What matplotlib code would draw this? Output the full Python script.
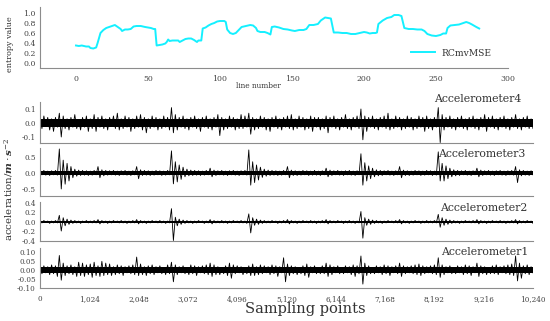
import numpy as np
import matplotlib
matplotlib.use("Agg")
import matplotlib.pyplot as plt

plt.rcParams['font.family'] = ['DejaVu Serif', 'DejaVu Sans']
plt.rcParams['mathtext.fontset'] = 'dejavuserif'

# ---------------- data ----------------
line_number = [0, 2, 4, 7, 9, 10, 12, 14, 15, 17, 19, 21, 23, 25, 27, 29, 31, 32, 34, 36, 38, 40, 42, 45, 48,
               50, 52, 54, 55, 56, 58, 60, 62, 63, 64, 65, 67, 69, 71, 72, 74, 76, 78, 80, 82, 84, 85, 87, 88,
               90, 92, 94, 96, 98, 100, 103, 104, 105, 107, 109, 111, 113, 115, 118, 121, 123, 125, 126, 128,
               131, 133, 135, 136, 138, 141, 144, 147, 150, 152, 155, 158, 160, 162, 165, 168, 170, 173, 175,
               177, 179, 182, 185, 188, 191, 194, 197, 200, 202, 204, 206, 208, 209, 210, 213, 216, 219, 221,
               224, 226, 228, 231, 234, 237, 240, 242, 244, 247, 250, 253, 255, 257, 258, 260, 263, 266, 269,
               271, 273, 275, 278, 280]
rcmvmse = [0.35, 0.34, 0.35, 0.33, 0.33, 0.30, 0.29, 0.31, 0.40, 0.60, 0.66, 0.70, 0.72, 0.74, 0.76, 0.72, 0.68,
           0.64, 0.67, 0.67, 0.68, 0.73, 0.74, 0.74, 0.72, 0.71, 0.70, 0.68, 0.68, 0.35, 0.36, 0.37, 0.39, 0.42,
           0.47, 0.44, 0.45, 0.45, 0.45, 0.42, 0.45, 0.48, 0.49, 0.49, 0.46, 0.42, 0.45, 0.45, 0.69, 0.71, 0.75,
           0.78, 0.80, 0.83, 0.84, 0.84, 0.82, 0.67, 0.60, 0.58, 0.60, 0.66, 0.72, 0.74, 0.76, 0.75, 0.70, 0.64,
           0.62, 0.62, 0.60, 0.57, 0.72, 0.73, 0.71, 0.68, 0.67, 0.65, 0.64, 0.66, 0.66, 0.68, 0.76, 0.76, 0.78,
           0.85, 0.91, 0.90, 0.89, 0.61, 0.61, 0.60, 0.60, 0.58, 0.58, 0.60, 0.62, 0.61, 0.59, 0.60, 0.60, 0.61,
           0.78, 0.85, 0.90, 0.92, 0.96, 0.96, 0.94, 0.70, 0.68, 0.68, 0.67, 0.67, 0.64, 0.58, 0.55, 0.54, 0.56,
           0.59, 0.59, 0.70, 0.75, 0.76, 0.77, 0.80, 0.82, 0.80, 0.77, 0.72, 0.69]

total_samples = 10240
x_ticks = [0, 1024, 2048, 3072, 4096, 5120, 6144, 7168, 8192, 9216, 10240]

# alternating peak / trough values (256 per trace)
acc4 = np.array([  # units 0.01
    3, -4, 5, -2, 4, -5, 3, -6, 4, -3, 7, -10, 5, -4, 3, -5,
    4, -3, 6, -4, 2, -5, 4, -3, 5, -6, 3, -4, 6, -6, 4, -3,
    5, -4, 3, -5, 4, -2, 5, -4, 7, -5, 3, -4, 5, -3, 4, -6,
    3, -4, 5, -3, 6, -5, 4, -7, 3, -4, 5, -3, 4, -5, 3, -4,
    5, -3, 4, -5, 11, -7, 6, -5, 4, -3, 5, -4, 3, -5, 4, -3,
    5, -4, 3, -6, 4, -3, 5, -4, 3, -5, 4, -3, 6, -9, 4, -5,
    3, -4, 5, -3, 4, -5, 3, -4, 6, -4, 5, -3, 7, -8, 4, -5,
    3, -4, 5, -3, 4, -5, 3, -6, 4, -3, 5, -4, 3, -5, 4, -3,
    5, -4, 6, -5, 3, -4, 5, -3, 4, -5, 3, -4, 5, -6, 4, -3,
    4, -5, 3, -4, 5, -7, 4, -3, 5, -4, 3, -5, 4, -3, 6, -4,
    3, -5, 4, -3, 5, -4, 10, -12, 5, -6, 4, -3, 5, -4, 3, -5,
    4, -3, 5, -4, 7, -5, 3, -4, 5, -3, 4, -5, 3, -4, 5, -3,
    4, -5, 3, -4, 5, -3, 4, -6, 5, -4, 3, -5, 4, -3, 11, -14,
    6, -5, 4, -3, 5, -4, 3, -5, 4, -3, 5, -4, 3, -5, 4, -3,
    5, -4, 3, -5, 4, -3, 6, -6, 4, -3, 5, -4, 3, -5, 4, -3,
    5, -4, 3, -5, 4, -3, 6, -4, 3, -5, 4, -3, 5, -4, 3, -4]) * 0.01
acc3 = np.array([  # units 0.01
    7, -6, 8, -7, 6, -8, 7, -6, 8, -7, 75, -50, 40, -35, 30, -25,
    20, -15, 12, -10, 9, -8, 8, -7, 7, -8, 6, -7, 8, -6, 20, -15,
    10, -9, 8, -7, 7, -6, 8, -7, 6, -8, 7, -6, 8, -7, 6, -8,
    7, -6, 20, -18, 10, -8, 8, -7, 7, -8, 6, -7, 8, -6, 7, -8,
    6, -7, 8, -6, 69, -34, 35, -28, 25, -20, 18, -12, 12, -9, 9, -8,
    8, -7, 7, -8, 6, -7, 8, -6, 15, -12, 9, -8, 7, -6, 8, -7,
    6, -8, 7, -6, 8, -7, 6, -8, 7, -6, 8, -7, 72, -38, 35, -30,
    25, -22, 18, -14, 12, -10, 9, -8, 8, -7, 7, -8, 6, -7, 8, -6,
    20, -15, 9, -8, 7, -8, 6, -7, 8, -6, 7, -8, 6, -7, 8, -7,
    6, -8, 7, -6, 15, -12, 9, -8, 7, -6, 8, -7, 6, -8, 7, -6,
    8, -7, 6, -8, 7, -6, 60, -38, 32, -25, 22, -18, 15, -12, 10, -9,
    8, -8, 7, -6, 8, -7, 6, -8, 7, -6, 20, -15, 9, -8, 7, -8,
    6, -7, 8, -6, 7, -8, 6, -7, 8, -6, 7, -8, 6, -7, 66, -25,
    30, -25, 22, -18, 15, -12, 10, -9, 8, -8, 7, -6, 8, -7, 6, -8,
    7, -6, 15, -12, 9, -8, 7, -6, 8, -7, 6, -8, 7, -6, 8, -7,
    6, -8, 7, -6, 8, -7, 20, -30, 10, -9, 8, -7, 6, -8, 7, -6]) * 0.01
acc2 = np.array([  # units 0.01
    2, -2, 3, -1, 2, -3, 2, -2, 3, -2, 14, -19, 9, -8, 6, -5,
    4, -3, 3, -2, 2, -3, 2, -1, 3, -2, 2, -2, 3, -2, 5, -4,
    3, -2, 2, -3, 2, -2, 3, -1, 2, -2, 3, -2, 2, -3, 2, -2,
    3, -2, 5, -4, 3, -2, 2, -3, 2, -2, 3, -1, 2, -2, 3, -2,
    2, -3, 2, -2, 28, -39, 10, -8, 6, -5, 4, -3, 3, -2, 2, -3,
    2, -2, 3, -1, 2, -3, 2, -2, 5, -4, 3, -2, 2, -2, 3, -2,
    2, -3, 2, -2, 3, -1, 2, -2, 3, -2, 2, -3, 17, -23, 9, -7,
    6, -5, 4, -3, 3, -2, 2, -2, 3, -1, 2, -3, 2, -2, 3, -2,
    5, -4, 3, -2, 2, -3, 2, -2, 3, -1, 2, -2, 3, -2, 2, -3,
    2, -2, 3, -2, 5, -4, 3, -2, 2, -2, 3, -1, 2, -3, 2, -2,
    3, -2, 2, -3, 2, -2, 22, -34, 9, -7, 6, -5, 4, -3, 3, -2,
    2, -3, 2, -2, 3, -1, 2, -2, 3, -2, 5, -4, 3, -2, 2, -3,
    2, -2, 3, -1, 2, -3, 2, -2, 3, -2, 2, -2, 3, -2, 16, -11,
    9, -7, 6, -5, 4, -3, 3, -2, 2, -3, 2, -2, 3, -1, 2, -2,
    3, -2, 5, -4, 3, -2, 2, -3, 2, -2, 3, -1, 2, -2, 3, -2,
    2, -3, 2, -2, 3, -2, 5, -4, 3, -2, 2, -2, 3, -1, 2, -3]) * 0.01
acc1 = np.array([  # units 0.001
    15, -20, 25, -15, 20, -25, 30, -20, 25, -35, 83, -56, 40, -30, 25, -20,
    30, -25, 20, -35, 45, -30, 40, -35, 30, -25, 35, -40, 45, -30, 25, -35,
    50, -30, 40, -25, 35, -30, 20, -25, 30, -20, 25, -30, 20, -15, 25, -20,
    30, -25, 74, -30, 35, -25, 20, -30, 25, -20, 30, -25, 20, -15, 25, -20,
    15, -25, 30, -20, 45, -65, 30, -25, 20, -15, 25, -20, 15, -25, 30, -20,
    25, -30, 20, -15, 25, -20, 30, -25, 40, -35, 30, -25, 20, -25, 15, -20,
    25, -30, 40, -45, 30, -20, 25, -15, 20, -25, 15, -20, 25, -30, 35, -30,
    20, -25, 30, -20, 25, -15, 20, -25, 30, -20, 25, -35, 20, -15, 70, -65,
    35, -30, 25, -20, 20, -25, 15, -20, 25, -30, 35, -40, 20, -15, 25, -20,
    15, -20, 25, -20, 40, -35, 30, -25, 20, -15, 25, -20, 15, -20, 25, -15,
    20, -25, 30, -35, 25, -20, 80, -78, 40, -30, 25, -20, 15, -20, 25, -15,
    20, -25, 30, -20, 25, -30, 20, -15, 25, -20, 40, -35, 25, -20, 20, -15,
    25, -20, 30, -25, 35, -30, 25, -20, 20, -15, 25, -20, 30, -25, 70, -40,
    30, -25, 20, -15, 25, -20, 15, -20, 25, -15, 20, -25, 30, -20, 25, -30,
    20, -15, 40, -35, 25, -20, 20, -25, 15, -20, 25, -20, 30, -25, 20, -15,
    25, -20, 30, -25, 35, -30, 80, -60, 40, -45, 25, -20, 30, -25, 20, -15]) * 0.001

# solid core half-width of each trace
core = {'Accelerometer4': 0.03, 'Accelerometer3': 0.05, 'Accelerometer2': 0.015, 'Accelerometer1': 0.016}

panels = [
    ('Accelerometer4', acc4, (-0.143, 0.15), [-0.1, 0.0, 0.1], ['-0.1', '0.0', '0.1']),
    ('Accelerometer3', acc3, (-0.72, 0.78), [-0.5, 0.0, 0.5], ['-0.5', '0.0', '0.5']),
    ('Accelerometer2', acc2, (-0.4, 0.42), [-0.4, -0.2, 0.0, 0.2, 0.4], ['-0.4', '-0.2', '0.0', '0.2', '0.4']),
    ('Accelerometer1', acc1, (-0.1, 0.125), [-0.10, -0.05, 0.0, 0.05, 0.10],
     ['-0.10', '-0.05', '0.00', '0.05', '0.10']),
]

# ---------------- figure ----------------
W, H = 550, 321
fig = plt.figure(figsize=(W / 100, H / 100), dpi=100)


def px_axes(l, t, r, b):
    return fig.add_axes([l / W, 1 - b / H, (r - l) / W, (b - t) / H])


spine_c = '#8c8c8c'
tick_c = '#444444'
text_c = '#333333'

# --- top entropy chart ---
ax = px_axes(40, 7, 508, 68)
ax.plot(line_number, rcmvmse, color='#14F0FF', lw=1.4, label='RCmvMSE')
ax.set_xlim(-25, 300)
ax.set_ylim(-0.1, 1.12)
ax.set_xticks([0, 50, 100, 150, 200, 250, 300])
ax.set_yticks([0.0, 0.2, 0.4, 0.6, 0.8, 1.0])
ax.set_yticklabels(['0.0', '0.2', '0.4', '0.6', '0.8', '1.0'])
for s in ['top', 'right']:
    ax.spines[s].set_visible(False)
for s in ['left', 'bottom']:
    ax.spines[s].set_color(spine_c)
ax.tick_params(length=0, labelsize=5.6, colors=tick_c, pad=3)
ax.tick_params(axis='x', pad=5)
leg = ax.legend(loc='center left', bbox_to_anchor=(411 / W, 1 - 53 / H), bbox_transform=fig.transFigure,
                frameon=False, fontsize=6.6, handlelength=2.6, handletextpad=0.7, borderpad=0, borderaxespad=0)
for t in leg.get_texts():
    t.set_color(text_c)
fig.text(258 / W, 1 - 86 / H, 'line number', fontsize=5.3, color=text_c, ha='center', va='center')
fig.text(10 / W, 1 - 44 / H, 'entropy value', fontsize=5.8, color=text_c, ha='center', va='center',
         rotation=90)

# --- accelerometer panels ---
boxes = [(40, 102, 533, 143), (40, 148, 533, 196), (40, 202, 533, 241), (40, 248, 533, 288)]
label_pos = [(521, 99), (525, 154), (527, 208), (528, 252)]
for (name, sig, ylim, yt, ytl), box, lp in zip(panels, boxes, label_pos):
    a = px_axes(*box)
    xs = np.linspace(0, total_samples, len(sig))
    c = core[name]
    a.fill_between([0, total_samples], [-c, -c], [c, c], color='black', lw=0)
    a.plot(xs, sig, color='black', lw=0.6)
    a.set_xlim(0, total_samples)
    a.set_ylim(*ylim)
    a.set_yticks(yt)
    a.set_yticklabels(ytl)
    a.set_xticks(x_ticks)
    for s in ['top', 'right']:
        a.spines[s].set_visible(False)
    for s in ['left', 'bottom']:
        a.spines[s].set_color(spine_c)
    a.tick_params(length=0, labelsize=5.2, colors=tick_c, pad=3)
    if name == 'Accelerometer1':
        a.set_xticklabels(['{:,}'.format(v) for v in x_ticks])
        a.tick_params(axis='x', pad=5)
    else:
        a.set_xticklabels([])
    fig.text(lp[0] / W, 1 - lp[1] / H, name, fontsize=7.8, color=text_c, ha='right', va='center')

fig.text(9 / W, 1 - 189 / H, r'acceleration/$\mathbfit{m}\cdot\mathbfit{s}^{-2}$', fontsize=7.4,
         color=text_c, ha='center', va='center', rotation=90)
fig.text(305 / W, 1 - 309 / H, 'Sampling points', fontsize=10.5, color=text_c, ha='center', va='center')

fig.savefig('out.png', dpi=100)
